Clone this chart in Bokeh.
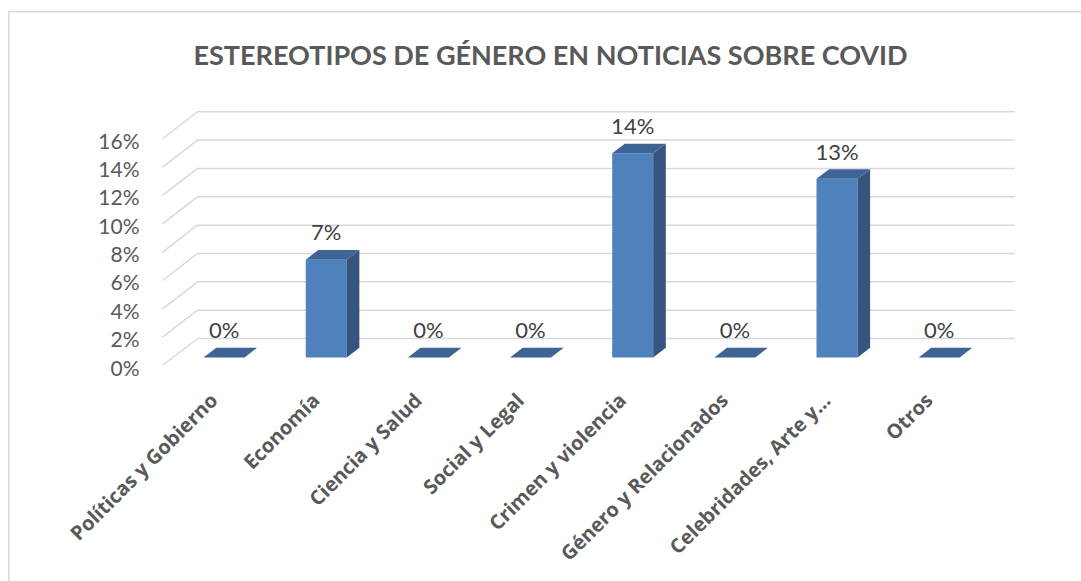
import math
from bokeh.plotting import figure
from bokeh.models import (FixedTicker, PrintfTickFormatter, ColumnDataSource,
                          Range1d, LinearAxis)
from bokeh.core.properties import value
from bokeh.embed import file_html
from bokeh.resources import INLINE

# ---------------- data ----------------
categories = ["Políticas y Gobierno", "Economía", "Ciencia y Salud", "Social y Legal",
              "Crimen y violencia", "Género y Relacionados", "Celebridades, Arte y…", "Otros"]
values = [0.0, 6.9, 0.0, 0.0, 14.4, 0.0, 12.6, 0.0]          # percent
value_labels = ["0%", "7%", "0%", "0%", "14%", "0%", "13%", "0%"]
y_ticks = [0, 2, 4, 6, 8, 10, 12, 14, 16]
title_text = "ESTEREOTIPOS DE GÉNERO EN NOTICIAS SOBRE COVID"

# ---------------- geometry / style ----------------
W, H = 1081, 581
B_LEFT, B_RIGHT, B_TOP, B_BOTTOM = 150, 21, 95, 206
PX_CAT = 102.15     # px per category
PX_PCT = 14.17      # px per percent
FRAME_W = W - B_LEFT - B_RIGHT
FRAME_H = H - B_TOP - B_BOTTOM
x0 = -63.1 / PX_CAT
y0 = -10.0 / PX_PCT
y1 = y0 + FRAME_H / PX_PCT
LABEL_SHIFT = 1.5 / PX_PCT   # optical centring of the y tick labels
DX = 35.0 / PX_CAT   # depth shift (x) in data units
DY = 27.0 / PX_PCT   # depth shift (y) in data units
D1, D2 = 0.30, 0.66  # bar front/back depth fractions
BW = 41.0 / PX_CAT   # bar width

FRONT = "#4F81BD"
SIDE = "#35557E"
TOP = "#3D6495"
GRID = "#D9D9D9"
TXT = "#404040"
TXT2 = "#595959"

p = figure(width=W, height=H, output_backend="svg", toolbar_location=None,
           x_range=Range1d(x0, x0 + FRAME_W / PX_CAT),
           y_range=Range1d(y0, y1), y_axis_location=None,
           min_border_left=B_LEFT, min_border_right=B_RIGHT,
           min_border_top=B_TOP, min_border_bottom=B_BOTTOM)
p.outline_line_color = None
p.xgrid.visible = False
p.ygrid.visible = False
p.background_fill_color = None
p.border_fill_color = None
# chart-area border (top and left edges are visible in the reference)
p.styles = {
    "background": ("linear-gradient(#D9D9D9,#D9D9D9) 8px 11px / 1.5px 100% no-repeat, "
                   "linear-gradient(#D9D9D9,#D9D9D9) 8px 11px / 100% 1.5px no-repeat, white"),
}

# ---------------- gridlines (3D walls) ----------------
n = len(categories)
gx, gy = [], []
for t in y_ticks:
    gx.append([-0.5, -0.5 + DX, n - 0.5 + DX])
    gy.append([t, t + DY, t + DY])
p.multi_line(gx, gy, line_color=GRID, line_width=1.5)

# ---------------- bars ----------------
xs = list(range(n))
fl = [k - BW / 2 + D1 * DX for k in xs]
fr = [k + BW / 2 + D1 * DX for k in xs]
fb = [D1 * DY] * n
ft = [v + D1 * DY for v in values]
dd = (D2 - D1)
side_x = [[r, r, r + dd * DX, r + dd * DX] for r in fr]
side_y = [[D1 * DY, v + D1 * DY, v + D2 * DY, D2 * DY] for v in values]
top_x = [[l, r, r + dd * DX, l + dd * DX] for l, r in zip(fl, fr)]
top_y = [[v + D1 * DY, v + D1 * DY, v + D2 * DY, v + D2 * DY] for v in values]

nz = [i for i, v in enumerate(values) if v > 0]
p.quad(left=[fl[i] for i in nz], right=[fr[i] for i in nz],
       bottom=[fb[i] for i in nz], top=[ft[i] for i in nz],
       fill_color=FRONT, line_color=None)
p.patches([side_x[i] for i in nz], [side_y[i] for i in nz],
          fill_color=SIDE, line_color=None)
p.patches(top_x, top_y, fill_color=TOP, line_color=None)

# ---------------- data labels ----------------
lab_src = ColumnDataSource(dict(
    x=[k + D1 * DX for k in xs],
    y=[v + D2 * DY + 18.0 / PX_PCT for v in values],
    t=value_labels))
p.text(x="x", y="y", text="t", source=lab_src, text_align="center",
       text_baseline="middle", text_font=value("Lato"), text_font_size="22px",
       text_color=TXT)

# ---------------- axes ----------------
p.extra_y_ranges = {"lab": Range1d(y0 + LABEL_SHIFT, y1 + LABEL_SHIFT)}
yax = LinearAxis(y_range_name="lab", ticker=FixedTicker(ticks=y_ticks),
                 formatter=PrintfTickFormatter(format="%d%%"))
yax.axis_line_color = None
yax.major_tick_line_color = None
yax.minor_tick_line_color = None
yax.major_label_standoff = 5
yax.major_label_text_font = "Lato"
yax.major_label_text_font_size = "21px"
yax.major_label_text_color = TXT2
p.add_layout(yax, "left")

p.xaxis.ticker = FixedTicker(ticks=xs)
p.xaxis.major_label_overrides = {i: c for i, c in enumerate(categories)}
p.xaxis.major_label_orientation = math.pi / 4
p.xaxis.axis_line_color = None
p.xaxis.major_tick_line_color = None
p.xaxis.minor_tick_line_color = None
p.xaxis.major_label_standoff = 15
p.xaxis.major_label_text_font = "Open Sans"
p.xaxis.major_label_text_font_style = "bold"
p.xaxis.major_label_text_font_size = "20px"
p.xaxis.major_label_text_color = TXT2

# ---------------- title ----------------
p.title.text = title_text
p.title.align = "left"
p.title.offset = 43
p.title.standoff = 50
p.title.text_font = "Lato"
p.title.text_font_style = "bold"
p.title.text_font_size = "27px"
p.title.text_color = TXT2

open("out.html", "w").write(file_html(p, INLINE))
